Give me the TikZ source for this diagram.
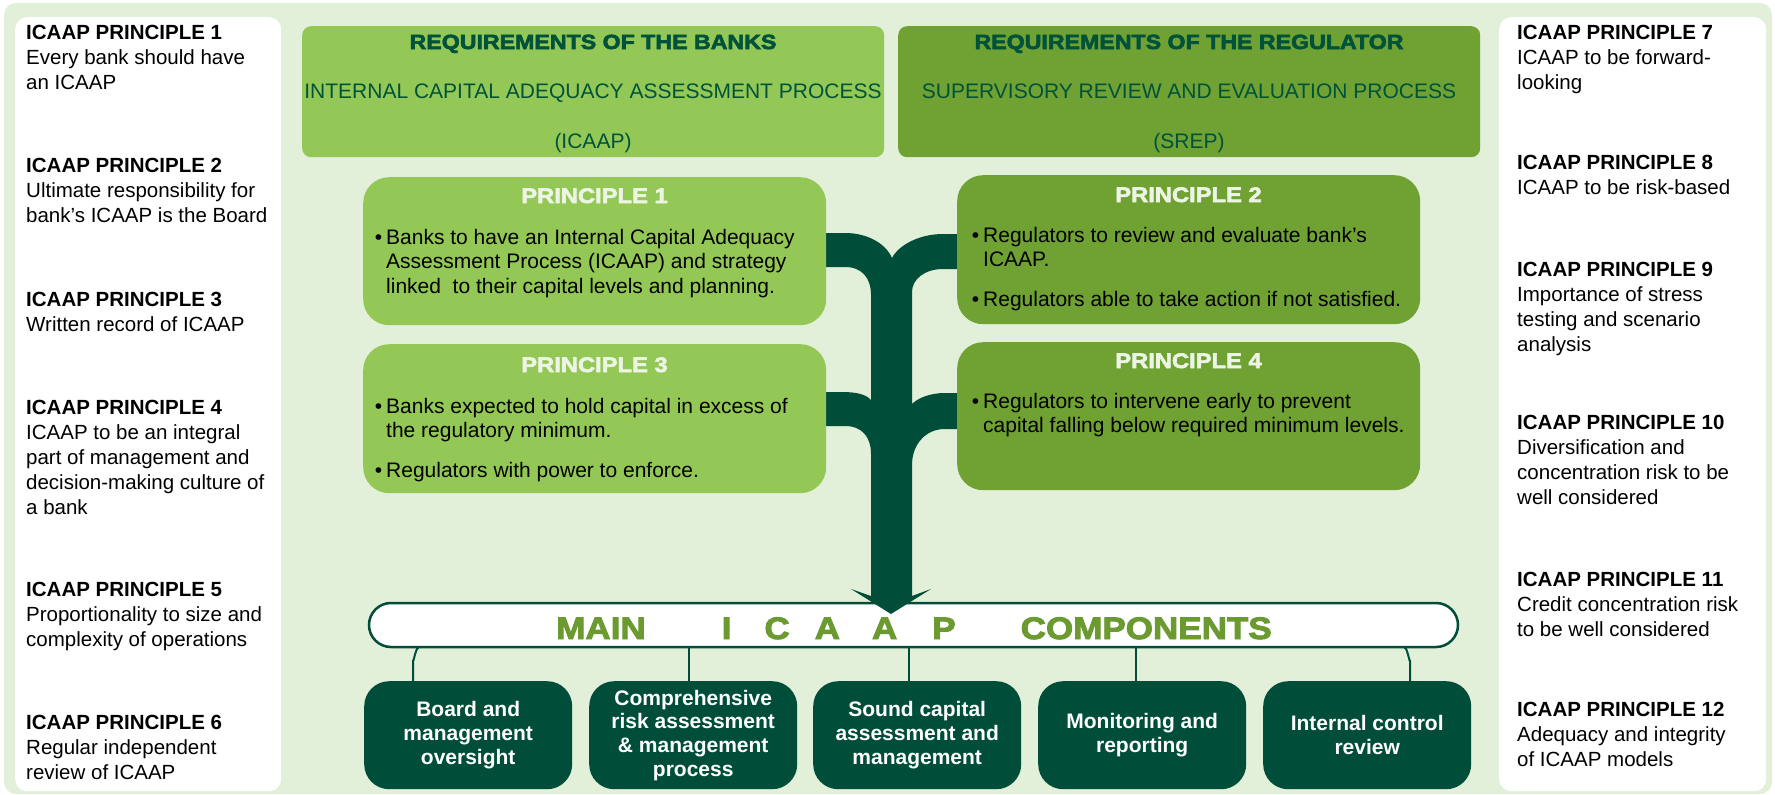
\documentclass[tikz,border=0pt]{standalone}
\usepackage{fontspec}
\setmainfont{Liberation Sans}
\newfontfamily\heavyfont[FakeStretch=1.13,FakeBold=3,BoldFont={Liberation Sans Bold},BoldFeatures={FakeBold=3}]{Liberation Sans Bold}
\definecolor{bgpale}{RGB}{226,239,217}
\definecolor{lgreen}{RGB}{148,200,86}
\definecolor{olive}{RGB}{111,161,51}
\definecolor{dkgreen}{RGB}{0,78,57}
\definecolor{hdrtxt}{RGB}{0,82,58}
\definecolor{ttlwhite}{RGB}{236,244,228}
\definecolor{bartxt}{RGB}{107,154,48}
\tikzset{
  panel/.style={fill=white,rounded corners=12pt,inner sep=0pt,anchor=north west,minimum width=266pt,minimum height=774pt},
  hdrbox/.style={rounded corners=9pt,inner sep=0pt,anchor=north west,minimum width=582pt,minimum height=131pt},
  pbox/.style={rounded corners=26pt,inner sep=0pt,anchor=north west,minimum width=463pt,minimum height=148pt},
  compbox/.style={fill=dkgreen,rounded corners=25pt,inner sep=0pt,anchor=north west,minimum width=208pt,minimum height=108pt,
     text=white,align=center,font=\fontsize{21}{23.7}\selectfont\bfseries},
  sidetxt/.style={anchor=base west,align=left,inner sep=0pt,font=\fontsize{20.5}{25}\selectfont},
  bultxt/.style={anchor=base west,align=left,inner sep=0pt,font=\fontsize{21}{24.5}\selectfont},
  ptitle/.style={anchor=base,inner sep=0pt,text=ttlwhite,font=\heavyfont\fontsize{21}{24}\selectfont},
  hdrtitle/.style={anchor=base,inner sep=0pt,text=hdrtxt,font=\heavyfont\fontsize{20.5}{24}\selectfont},
  hdrsub/.style={anchor=base,inner sep=0pt,text=hdrtxt,font=\fontsize{21}{24}\selectfont},
  conn/.style={draw=dkgreen,line width=2pt},
}
\newcommand{\bul}{\llap{\textbullet\hspace{4pt}}}
\begin{document}
\begin{tikzpicture}[x=1pt,y=-1pt]
\useasboundingbox (0,0) rectangle (1775,795);
\fill[white] (0,0) rectangle (1775,795);
\fill[bgpale,rounded corners=12pt] (4,3) rectangle (1772,794);

% side panels
\node[panel] (lpanel) at (15,17) {};
\node[panel,minimum width=267pt] (rpanel) at (1499,17) {};

% (anchor = baseline of the last line)
\node[sidetxt] (l1) at (26,89.5) {\textbf{ICAAP PRINCIPLE 1}\\Every bank should have\\an ICAAP};
\node[sidetxt] (l2) at (26,222.5) {\textbf{ICAAP PRINCIPLE 2}\\Ultimate responsibility for\\bank’s ICAAP is the Board};
\node[sidetxt] (l3) at (26,331.5) {\textbf{ICAAP PRINCIPLE 3}\\Written record of ICAAP};
\node[sidetxt] (l4) at (26,514) {\textbf{ICAAP PRINCIPLE 4}\\ICAAP to be an integral\\part of management and\\decision-making culture of\\a bank};
\node[sidetxt] (l5) at (26,646.5) {\textbf{ICAAP PRINCIPLE 5}\\Proportionality to size and\\complexity of operations};
\node[sidetxt] (l6) at (26,779.5) {\textbf{ICAAP PRINCIPLE 6}\\Regular independent\\review of ICAAP};

\node[sidetxt] (r7) at (1517,89.5) {\textbf{ICAAP PRINCIPLE 7}\\ICAAP to be forward-\\looking};
\node[sidetxt] (r8) at (1517,194.5) {\textbf{ICAAP PRINCIPLE 8}\\ICAAP to be risk-based};
\node[sidetxt] (r9) at (1517,351.5) {\textbf{ICAAP PRINCIPLE 9}\\Importance of stress\\testing and scenario\\analysis};
\node[sidetxt] (r10) at (1517,504.5) {\textbf{ICAAP PRINCIPLE 10}\\Diversification and\\concentration risk to be\\well considered};
\node[sidetxt] (r11) at (1517,636.5) {\textbf{ICAAP PRINCIPLE 11}\\Credit concentration risk\\to be well considered};
\node[sidetxt] (r12) at (1517,766.5) {\textbf{ICAAP PRINCIPLE 12}\\Adequacy and integrity\\of ICAAP models};

% headers
\node[hdrbox,fill=lgreen] (hbank) at (302,26) {};
\node[hdrbox,fill=olive] (hreg) at (898,26) {};
\node[hdrtitle] (hbank1) at (593,49) {REQUIREMENTS OF THE BANKS};
\node[hdrsub] (hbank2) at (593,98) {INTERNAL CAPITAL ADEQUACY ASSESSMENT PROCESS};
\node[hdrsub] (hbank3) at (593,148) {(ICAAP)};
\node[hdrtitle] (hreg1) at (1189,49) {REQUIREMENTS OF THE REGULATOR};
\node[hdrsub] (hreg2) at (1189,98) {SUPERVISORY REVIEW AND EVALUATION PROCESS};
\node[hdrsub] (hreg3) at (1189,148) {(SREP)};

% main bar
\node[draw=dkgreen,line width=2.5pt,fill=white,rounded corners=22pt,minimum width=1089pt,minimum height=44pt,inner sep=0pt] (bar) at (913.5,625) {};
\node[anchor=base west,inner sep=0pt,text=bartxt,font=\heavyfont\fontsize{31}{34}\selectfont] (bartext) at (556,639)
  {MAIN\hspace{76pt}I\hspace{33pt}C\hspace{25pt}A\hspace{32pt}A\hspace{35pt}P\hspace{65pt}COMPONENTS};

% tree arrow
\fill[dkgreen] (892,258)
  .. controls (886,244) and (868,233) .. (845,233)
  -- (821,233) -- (821,267) -- (845,267)
  .. controls (862,267) and (871,278) .. (871,295)
  -- (871,400)
  .. controls (866,394) and (855,392) .. (842,392)
  -- (821,392) -- (821,426) -- (845,426)
  .. controls (862,426) and (871,437) .. (871,454)
  -- (871,596) -- (851,589) -- (891,614) -- (931,589) -- (912,596)
  -- (912,465)
  .. controls (912,445) and (925,429) .. (945,429)
  -- (962,429) -- (962,393) -- (945,393)
  .. controls (930,393) and (918,398) .. (912,404)
  -- (912,292)
  .. controls (912,279) and (925,269) .. (943,269)
  -- (962,269) -- (962,234) -- (943,234)
  .. controls (918,234) and (898,246) .. (892,258) -- cycle;

% principle boxes
\node[pbox,fill=lgreen] (p1) at (363,177) {};
\node[pbox,fill=lgreen,minimum height=149pt] (p3) at (363,344) {};
\node[pbox,fill=olive,minimum height=149pt] (p2) at (957,175) {};
\node[pbox,fill=olive] (p4) at (957,342) {};

\node[ptitle] (p1t) at (594.5,203) {PRINCIPLE 1};
\node[ptitle] (p3t) at (594.5,372) {PRINCIPLE 3};
\node[ptitle] (p2t) at (1188.5,202) {PRINCIPLE 2};
\node[ptitle] (p4t) at (1188.5,368) {PRINCIPLE 4};

\node[bultxt] (p1b) at (386,293) {\bul Banks to have an Internal Capital Adequacy\\Assessment Process (ICAAP) and strategy\\linked\ \ to their capital levels and planning.};
\node[bultxt] (p3b) at (386,477.5) {\bul Banks expected to hold capital in excess of\\the regulatory minimum.\\[15.5pt]\bul Regulators with power to enforce.};
\node[bultxt] (p2b) at (983,306.5) {\bul Regulators to review and evaluate bank’s\\ICAAP.\\[15.5pt]\bul Regulators able to take action if not satisfied.};
\node[bultxt] (p4b) at (983,432.5) {\bul Regulators to intervene early to prevent\\capital falling below required minimum levels.};

% components
\node[compbox] (c1) at (364,681) {Board and\\management\\oversight};
\node[compbox] (c2) at (589,681) {Comprehensive\\risk assessment\\\& management\\process};
\node[compbox] (c3) at (813,681) {Sound capital\\assessment and\\management};
\node[compbox] (c4) at (1038,681) {Monitoring and\\reporting};
\node[compbox] (c5) at (1263,681) {Internal control\\review};

\coordinate (k1) at (413,0);
\coordinate (k1b) at (419,0);
\coordinate (k2) at (689,0);
\coordinate (k3) at (909,0);
\coordinate (k4) at (1136,0);
\coordinate (k5) at (1410,0);
\coordinate (k5b) at (1404,0);

\draw[conn] (c1.north -| k1) -- ([yshift=-12pt]bar.south -| k1) to[out=-90,in=120] (bar.south -| k1b);
\draw[conn] (c2.north -| k2) -- (bar.south -| k2);
\draw[conn] (c3.north -| k3) -- (bar.south -| k3);
\draw[conn] (c4.north -| k4) -- (bar.south -| k4);
\draw[conn] (c5.north -| k5) -- ([yshift=-12pt]bar.south -| k5) to[out=-90,in=60] (bar.south -| k5b);
\end{tikzpicture}
\end{document}
